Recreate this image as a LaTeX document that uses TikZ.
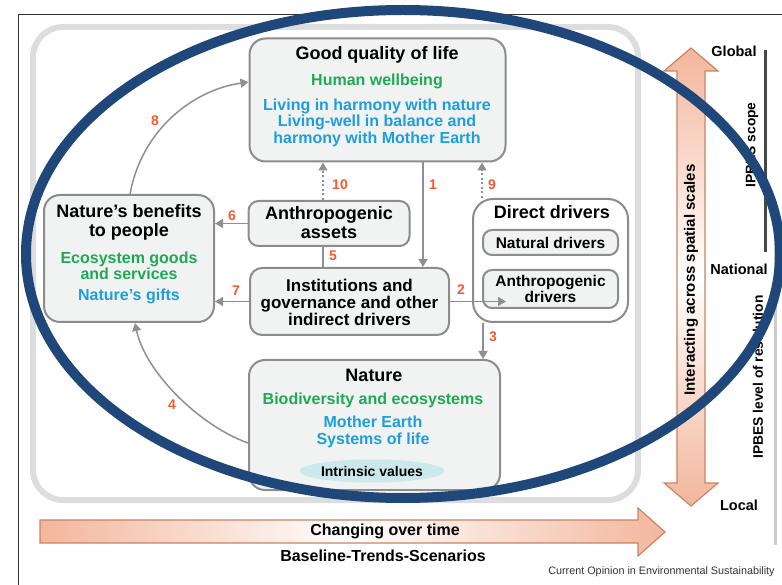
\documentclass[tikz,border=0pt]{standalone}
\usepackage{fontspec}
\setmainfont{Liberation Sans}
\usetikzlibrary{arrows.meta,shapes.geometric}

\definecolor{boxgray}{HTML}{8C8C8C}
\definecolor{boxfill}{HTML}{F1F2F2}
\definecolor{txtgreen}{HTML}{1FA957}
\definecolor{txtblue}{HTML}{1D9FDD}
\definecolor{numred}{HTML}{F15B36}
\definecolor{arrgray}{HTML}{8F8F8F}
\definecolor{framegray}{HTML}{DCDDDE}
\definecolor{ellblue}{HTML}{1F477A}
\definecolor{peach}{HTML}{F3B69C}
\definecolor{peachline}{HTML}{C88463}
\definecolor{intrinsic}{HTML}{CBE9EC}

\tikzset{
    bx/.style={draw=boxgray, line width=2pt, fill=boxfill, rounded corners=16pt, inner sep=0pt},
    sbx/.style={bx, rounded corners=9pt},
    ttl/.style={font=\fontsize{18}{19}\selectfont\bfseries, align=center, inner sep=0pt},
    blk/.style={font=\fontsize{17}{17}\selectfont\bfseries, align=center, inner sep=0pt},
    grn/.style={font=\fontsize{16}{16.5}\selectfont\bfseries, text=txtgreen, align=center, inner sep=0pt},
    blu/.style={font=\fontsize{16}{16.5}\selectfont\bfseries, text=txtblue, align=center, inner sep=0pt},
    num/.style={font=\fontsize{14}{14}\selectfont\bfseries, text=numred, inner sep=0pt},
    side/.style={font=\fontsize{14.5}{15}\selectfont\bfseries, inner sep=0pt},
}

\begin{document}
\begin{tikzpicture}[x=1pt, y=-1pt,
        arr/.style={draw=arrgray, line width=1.5pt, -{Triangle[length=8pt, width=9pt]}},
        dotarr/.style={arr, dash pattern=on 2pt off 2.5pt},
        ]
    \useasboundingbox (0,0) rectangle (782,585);

    % frame and background
    \draw[line width=0.8pt, black!80] (18,585) -- (18,14) -- (782,14);
    \draw[line width=6pt, framegray, rounded corners=30pt] (33,27) rectangle (638,500);

    % boxes
    \node[bx, minimum width=256pt, minimum height=123pt] (good) at (377.5,100) {};
    \node[bx, rounded corners=10pt, minimum width=161pt, minimum height=45pt] (assets) at (329,223.5) {};
    \node[bx, rounded corners=12pt, minimum width=199pt, minimum height=67pt] (inst) at (349.5,301.5) {};
    \node[bx, minimum width=170pt, minimum height=127pt] (benefits) at (129,258.5) {};
    \node[bx, fill=white, rounded corners=20pt, minimum width=155pt, minimum height=123pt] (direct) at (550.5,260.5) {};
    \node[sbx, minimum width=135pt, minimum height=25pt] (natural) at (550.5,242.5) {};
    \node[sbx, minimum width=135pt, minimum height=38pt] (anthdrv) at (550.5,289) {};
    \node[bx, minimum width=251pt, minimum height=130pt] (nature) at (374.5,425) {};
    \node[ellipse, fill=intrinsic, minimum width=145pt, minimum height=23pt, inner sep=0pt,
        font=\fontsize{14}{14}\selectfont\bfseries] (intrinsic) at (372,471) {Intrinsic values};

    % box texts
    \node[ttl] (goodttl) at (377,55) {Good quality of life};
    \node[grn] (goodgrn) at (377,81) {Human wellbeing};
    \node[blu] (goodblu) at (377,122.5) {Living in harmony with nature\\Living-well in balance and\\harmony with Mother Earth};
    \node[ttl] (assetstxt) at (329,223) {Anthropogenic\\assets};
    \node[blk] (insttxt) at (349.5,302) {Institutions and\\governance and other\\indirect drivers};
    \node[ttl] (benttl) at (129,222.5) {Nature’s benefits\\to people};
    \node[grn] (bengrn) at (129,266) {Ecosystem goods\\and services};
    \node[blu] (benblu) at (129,296) {Nature’s gifts};
    \node[ttl] (directttl) at (552,212) {Direct drivers};
    \node[font=\fontsize{15.5}{15.5}\selectfont\bfseries, inner sep=0pt] (naturaltxt) at (550.5,242.5) {Natural drivers};
    \node[font=\fontsize{15.5}{16}\selectfont\bfseries, align=center, inner sep=0pt] (anthdrvtxt) at (550.5,289) {Anthropogenic\\drivers};
    \node[ttl] (naturettl) at (374,375) {Nature};
    \node[grn] (naturegrn) at (373,400) {Biodiversity and ecosystems};
    \node[blu] (natureblu) at (373,432) {Mother Earth\\Systems of life};

    % connectors
    \begin{scope}
        \draw[arr] (good.south -| 423,0) -- (inst.north -| 423,0);
        \draw[arr] (inst.east) -- (inst.east -| 506,0);
        \draw[arr] (direct.south -| 483,0) -- (nature.north -| 483,0);
        \draw[arr] (nature.west |- 0,443) .. controls +(-50,-18) and +(10,48) .. ([xshift=6pt]benefits.south);
        \draw[draw=arrgray, line width=1.5pt] (assets.south -| 323,0) -- (inst.north -| 323,0);
        \draw[arr] (assets.west) -- (assets.west -| benefits.east);
        \draw[arr] (inst.west) -- (inst.west -| benefits.east);
        \draw[arr] ([xshift=1pt]benefits.north) .. controls +(12,-65) and +(-55,8) .. (good.west |- 0,82);
        \draw[dotarr] (direct.north -| 482,0) -- (good.south -| 482,0);
        \draw[dotarr] (assets.north -| 323,0) -- (good.south -| 323,0);
    \end{scope}

    % connector numbers
    \node[num] (n1) at (433,185) {1};
    \node[num] (n2) at (461,290) {2};
    \node[num] (n3) at (493,337) {3};
    \node[num] (n4) at (172,405) {4};
    \node[num] (n5) at (333,256) {5};
    \node[num] (n6) at (232,216) {6};
    \node[num] (n7) at (236,291) {7};
    \node[num] (n8) at (155,121) {8};
    \node[num] (n9) at (492,185) {9};
    \node[num] (n10) at (340,185) {10};

    % spatial scales
    \shadedraw[draw=peachline, line width=1.2pt, top color=peach, bottom color=peach, middle color=white]
        (691,48) -- (718,71) -- (705,71) -- (705,483) -- (718,483) -- (691,506)
        -- (664,483) -- (677,483) -- (677,71) -- (664,71) -- cycle;
    \node[side, font=\fontsize{15}{15}\selectfont\bfseries, rotate=90] (spatial) at (691,280) {Interacting across spatial scales};
    \node[side] (global) at (734,51) {Global};
    \node[side] (national) at (739,269) {National};
    \node[side] (local) at (739,505) {Local};
    \draw[line width=3pt, black!72] (765,50) -- (765,252);
    \draw[line width=3pt, black!20] (775,222) -- (775,545);
    \node[side, font=\fontsize{13.8}{14}\selectfont\bfseries, rotate=90] (scope) at (752,145) {IPBES scope};
    \node[side, font=\fontsize{13.8}{14}\selectfont\bfseries, rotate=90] (resolution) at (758,377) {IPBES level of resolution};

    % time
    \shadedraw[draw=peachline, line width=1.2pt, left color=peach, right color=peach, middle color=white]
        (40,520) -- (638,520) -- (638,508) -- (665,532) -- (638,556) -- (638,543) -- (40,543) -- cycle;
    \node[side, font=\fontsize{16}{16}\selectfont\bfseries] (changing) at (385,531) {Changing over time};
    \node[side, font=\fontsize{16}{16}\selectfont\bfseries] (baseline) at (383,556) {Baseline-Trends-Scenarios};
    \node[font=\fontsize{10.8}{11}\selectfont, text=black!80, inner sep=0pt] (journal) at (661.5,572) {Current Opinion in Environmental Sustainability};

    % blue ellipse on top
    \draw[line width=10pt, ellblue] (403,254) ellipse [x radius=377, y radius=244];
\end{tikzpicture}
\end{document}
